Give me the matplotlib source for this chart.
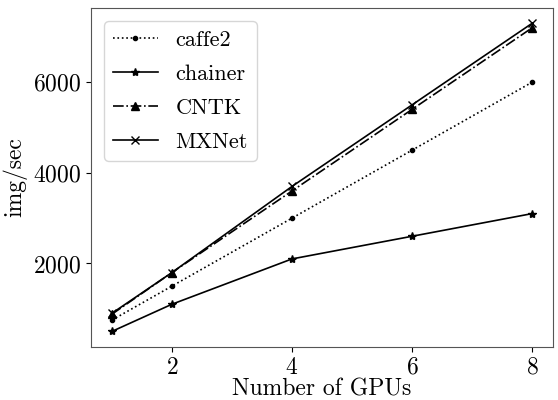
import matplotlib
matplotlib.use("Agg")
import matplotlib.pyplot as plt

plt.rcParams.update({
    "font.family": "serif",
    "font.serif": ["cmr10", "DejaVu Serif"],
    "mathtext.fontset": "cm",
    "axes.formatter.use_mathtext": True,
    "font.size": 17,
})

gpus = [1, 2, 4, 6, 8]
caffe2 = [750, 1500, 3000, 4500, 6000]
chainer = [500, 1100, 2100, 2600, 3100]
cntk = [880, 1800, 3600, 5400, 7200]
mxnet = [900, 1800, 3700, 5500, 7300]

fig = plt.figure(figsize=(5.58, 4.0), dpi=100)
ax = fig.add_axes([0.163, 0.133, 0.828, 0.847])
ax.plot(gpus, caffe2, color="black", linestyle=":", marker=".", markersize=6, lw=1.2, label="caffe2")
ax.plot(gpus, chainer, color="black", linestyle="-", marker="*", markersize=6, lw=1.2, label="chainer")
ax.plot(gpus, cntk, color="black", linestyle="-.", marker="^", markersize=6, lw=1.2, label="CNTK")
ax.plot(gpus, mxnet, color="black", linestyle="-", marker="x", markersize=6, lw=1.2, label="MXNet")

ax.set_xticks([2, 4, 6, 8])
ax.set_yticks([2000, 4000, 6000])
ax.set_xlabel("Number of GPUs", labelpad=0)
ax.set_ylabel("img/sec", labelpad=4)
for spine in ax.spines.values():
    spine.set_color("#555555")
ax.legend(loc="upper left", fontsize=16, labelspacing=0.65, borderaxespad=0.6)

plt.savefig("out.png", dpi=100)
